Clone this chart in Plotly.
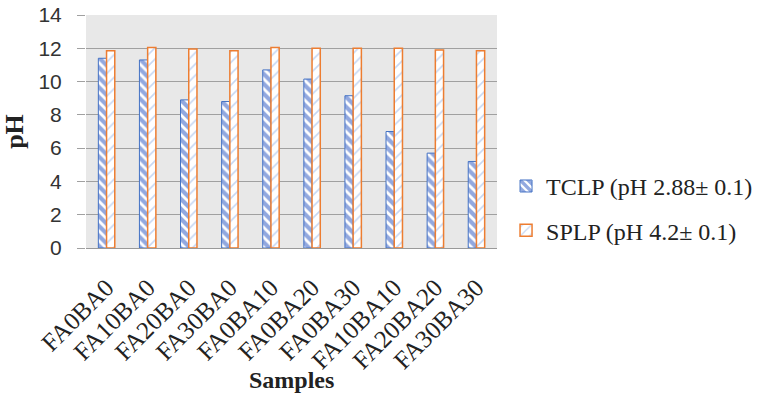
import plotly.graph_objects as go

samples = ["FA0BA0", "FA10BA0", "FA20BA0", "FA30BA0", "FA0BA10",
           "FA0BA20", "FA0BA30", "FA10BA10", "FA20BA20", "FA30BA30"]
tclp = [11.4, 11.3, 8.9, 8.8, 10.7, 10.15, 9.15, 7.0, 5.7, 5.2]
splp = [11.85, 12.05, 11.95, 11.85, 12.05, 12.0, 12.0, 12.0, 11.9, 11.85]
y_ticks = [0, 2, 4, 6, 8, 10, 12, 14]

fig = go.Figure()
fig.add_trace(go.Bar(
    x=samples, y=tclp, name="TCLP (pH 2.88\u00b1 0.1)", legendgroup="tclp",
    marker=dict(color="white",
                line=dict(color="#4472C4", width=1),
                pattern=dict(shape="\\", fgcolor="#2552c0", bgcolor="white",
                             size=7, solidity=0.6)),
))
fig.add_trace(go.Bar(
    x=samples, y=splp, name="SPLP (pH 4.2\u00b1 0.1)", legendgroup="splp",
    marker=dict(color="white",
                line=dict(color="#ED7D31", width=1.5),
                pattern=dict(shape="/", fgcolor="#8fb0e6", bgcolor="white",
                             size=8, solidity=0.2)),
))

fig.update_layout(
    width=766, height=400,
    margin=dict(l=86, r=269, t=15, b=152, autoexpand=False),
    paper_bgcolor="white",
    plot_bgcolor="#e8e8e8",
    barmode="group",
    bargap=0.6,
    bargroupgap=0.0,
    font=dict(family="Liberation Serif", color="#222"),
    legend=dict(x=1.022, y=0.17, xanchor="left", yanchor="middle",
                font=dict(family="Liberation Serif", size=24, color="#222"),
                tracegroupgap=10, itemwidth=30, bgcolor="rgba(0,0,0,0)"),
    xaxis=dict(
        tickangle=-45,
        tickfont=dict(family="Liberation Serif", size=25, color="#222"),
        showline=True, linecolor="#999", linewidth=1,
        ticklabelstandoff=14,
        automargin=False,
    ),
    yaxis=dict(
        range=[0, 14],
        tickvals=y_ticks,
        tickfont=dict(family="Liberation Sans", size=21, color="#333"),
        showgrid=True, gridcolor="#a0a0a0", gridwidth=1,
        ticks="outside", ticklen=8, tickcolor="#a0a0a0",
        ticklabelstandoff=11,
        zeroline=False,
        automargin=False,
        title=dict(text="<b>pH</b>",
                   font=dict(family="Liberation Serif", size=26, color="#222"),
                   standoff=12),
    ),
    annotations=[dict(
        text="<b>Samples</b>", xref="paper", yref="paper",
        x=0.5, y=-0.567, xanchor="center", yanchor="middle", showarrow=False,
        font=dict(family="Liberation Serif", size=24, color="#222"),
    )],
)

fig.write_html("out.html")
